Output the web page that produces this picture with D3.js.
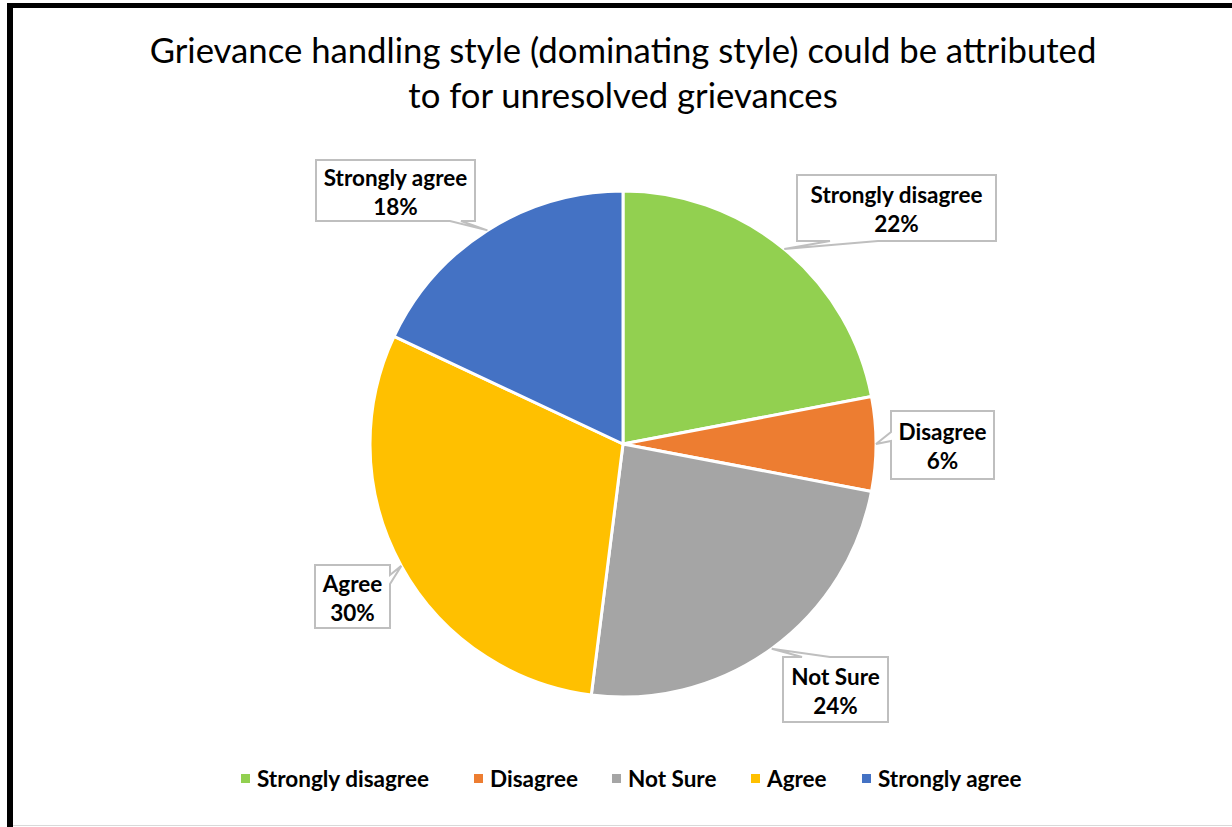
<!DOCTYPE html>
<html>
<head>
<meta charset="utf-8">
<script src="https://cdn.jsdelivr.net/npm/d3@7"></script>
<style>
  html, body { margin: 0; padding: 0; background: #fff; }
  svg { display: block; }
</style>
</head>
<body>
<svg id="chart" width="1232" height="827"></svg>
<script>
// Survey responses
const categories = ["Strongly disagree", "Disagree", "Not Sure", "Agree", "Strongly agree"];
const percents = [22, 6, 24, 30, 18];
const colors = ["#92D050", "#ED7D31", "#A5A5A5", "#FFC000", "#4472C4"];
const titleLines = [
  "Grievance handling style (dominating style) could be attributed",
  "to for unresolved grievances"
];

// Callout boxes: x, y, w, h and the edge the pointer leaves from, with its base span
const callouts = [
  { x: 797, y: 175, w: 199, h: 66, side: "bottom", base: [830, 878] },
  { x: 891, y: 411, w: 103, h: 68, side: "left",   base: [432, 441] },
  { x: 783, y: 657, w: 105, h: 65, side: "top",    base: [802, 830] },
  { x: 315, y: 565, w: 75,  h: 63, side: "right",  base: [575, 584] },
  { x: 316, y: 160, w: 159, h: 61, side: "bottom", base: [450, 461] }
];

const svg = d3.select("#chart");
const font = "Lato, 'Open Sans', sans-serif";

// frame
svg.append("rect").attr("x", 0).attr("y", 0).attr("width", 1232).attr("height", 827).attr("fill", "#fff");
svg.append("line").attr("x1", 7).attr("x2", 1232).attr("y1", 5.5).attr("y2", 5.5)
  .attr("stroke", "#000").attr("stroke-width", 5);
svg.append("line").attr("x1", 10).attr("x2", 10).attr("y1", 3).attr("y2", 827)
  .attr("stroke", "#000").attr("stroke-width", 6);
svg.append("line").attr("x1", 13).attr("x2", 1232).attr("y1", 825.5).attr("y2", 825.5)
  .attr("stroke", "#d9d9d9").attr("stroke-width", 1);

// title
svg.append("g").selectAll("text").data(titleLines).join("text")
  .attr("x", 623).attr("y", (d, i) => 63 + i * 45)
  .attr("text-anchor", "middle")
  .attr("font-family", font).attr("font-size", 34.7).attr("fill", "#000")
  .text(d => d);

// pie
const cx = 623, cy = 444, R = 253;
const data = categories.map((c, i) => ({ cat: c, value: percents[i], color: colors[i], i }));
const pie = d3.pie().value(d => d.value).sort(null);
const arcs = pie(data);
const arc = d3.arc().innerRadius(0).outerRadius(R);

const g = svg.append("g").attr("transform", `translate(${cx},${cy})`);
g.selectAll("path").data(arcs).join("path")
  .attr("d", arc)
  .attr("fill", d => d.data.color)
  .attr("stroke", "#fff").attr("stroke-width", 3).attr("stroke-linejoin", "round");

// callouts
const cg = svg.append("g");
arcs.forEach((a, i) => {
  const c = callouts[i];
  const mid = (a.startAngle + a.endAngle) / 2;
  const tx = cx + R * Math.sin(mid), ty = cy - R * Math.cos(mid);
  const x0 = c.x, y0 = c.y, x1 = c.x + c.w, y1 = c.y + c.h;
  const [b0, b1] = c.base;
  let pts;
  if (c.side === "bottom") {
    pts = [[x0, y0], [x1, y0], [x1, y1], [b1, y1], [tx, ty], [b0, y1], [x0, y1]];
  } else if (c.side === "top") {
    pts = [[x0, y0], [b0, y0], [tx, ty], [b1, y0], [x1, y0], [x1, y1], [x0, y1]];
  } else if (c.side === "left") {
    pts = [[x0, y0], [x1, y0], [x1, y1], [x0, y1], [x0, b1], [tx, ty], [x0, b0]];
  } else {
    pts = [[x0, y0], [x1, y0], [x1, b0], [tx, ty], [x1, b1], [x1, y1], [x0, y1]];
  }
  cg.append("path")
    .attr("d", d3.line()(pts) + "Z")
    .attr("fill", "#fff").attr("stroke", "#bfbfbf").attr("stroke-width", 2);
  const midx = x0 + c.w / 2;
  const t = cg.append("text").attr("text-anchor", "middle")
    .attr("font-family", font).attr("font-size", 22.5).attr("font-weight", "bold").attr("fill", "#000");
  t.append("tspan").attr("x", midx).attr("y", y0 + c.h / 2 - 5).text(a.data.cat);
  t.append("tspan").attr("x", midx).attr("y", y0 + c.h / 2 + 24).text(d3.format(".0%")(a.data.value / 100));
});

// legend
const legendX = [241, 474, 612, 751, 862];
const lg = svg.append("g");
data.forEach((d, i) => {
  lg.append("rect").attr("x", legendX[i]).attr("y", 774).attr("width", 9).attr("height", 9).attr("fill", d.color);
  lg.append("text").attr("x", legendX[i] + 16).attr("y", 786.5)
    .attr("font-family", font).attr("font-size", 22.5).attr("font-weight", "bold").attr("fill", "#000")
    .text(d.cat);
});
</script>
</body>
</html>
